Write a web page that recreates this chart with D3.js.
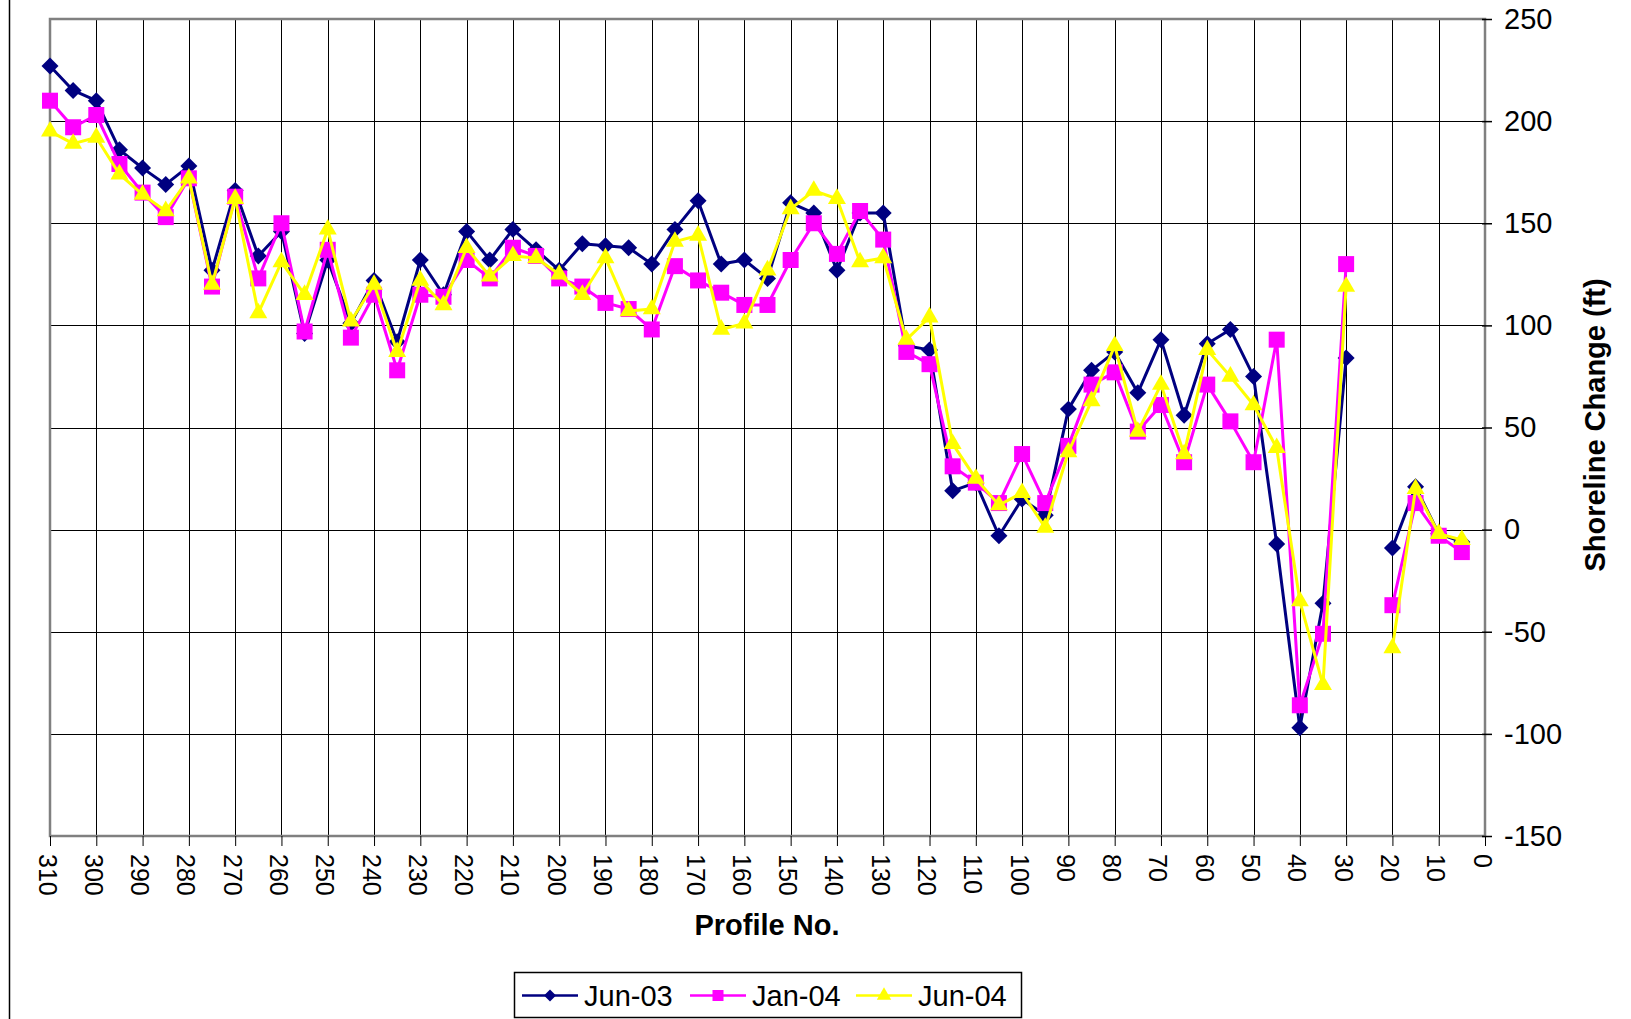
<!DOCTYPE html>
<html>
<head>
<meta charset="utf-8">
<script src="https://cdn.jsdelivr.net/npm/d3@7"></script>
<style>
  body { margin: 0; background: #fff; }
  svg text { font-family: Arial, "Liberation Sans", sans-serif; fill: #000; }
</style>
</head>
<body>
<svg id="chart" width="1631" height="1019"></svg>
<script>
// profile numbers, 310 down to 5 (no survey at 25)
var profiles = d3.range(310, 0, -5);

var jun03 = [227,215,210,186,177,169,178,127,166,134,146,96,132,101,122,92,132,115,146,132,
             147,137,127,140,139,138,130,147,161,130,132,123,160,155,127,155,155,90,88,19,
             23,-3,15,7,59,78,87,67,93,56,91,98,75,-7,-97,-36,84,null,-9,21,-2,-6];
var jan04 = [210,197,203,179,165,153,172,119,163,123,150,97,137,94,115,78,115,114,132,123,
             138,134,123,119,111,108,98,129,122,116,110,110,132,150,135,156,142,87,81,31,
             23,13,37,13,41,71,77,48,61,33,71,53,33,93,-86,-51,130,null,-37,13,-3,-11];
var jun04 = [195,189,192,174,164,156,172,120,162,106,131,115,147,102,120,87,122,110,138,124,
             134,133,125,115,133,107,108,141,144,98,101,127,157,166,162,131,133,93,104,42,
             25,12,18,1,38,63,90,48,71,37,88,75,61,40,-35,-76,119,null,-58,20,-2,-5];

var seriesNames = ["Jun-03", "Jan-04", "Jun-04"];
var seriesColors = ["#000080", "#FF00FF", "#FFFF00"];
var xTicks = d3.range(310, -1, -10);
var yTicks = d3.range(-150, 251, 50);

var svg = d3.select("#chart");
var plotLeft = 50, plotRight = 1485, plotTop = 19, plotBottom = 836;

var x = d3.scaleLinear().domain([310, 0]).range([plotLeft, plotRight]);
var y = d3.scaleLinear().domain([-150, 250]).range([plotBottom, plotTop]);

// plain hyphen for negatives, like the original sheet
function plain(d) { return String(d); }

// outer chart border (only left edge visible)
svg.append("line")
    .attr("x1", 9.5).attr("x2", 9.5).attr("y1", 0).attr("y2", 1019)
    .attr("stroke", "#000").attr("stroke-width", 1.5);

// gridlines
svg.append("g").selectAll("line")
    .data(xTicks.slice(1, -1))
    .enter().append("line")
    .attr("x1", function(d){ return Math.round(x(d)) + 0.5; })
    .attr("x2", function(d){ return Math.round(x(d)) + 0.5; })
    .attr("y1", plotTop).attr("y2", plotBottom)
    .attr("stroke", "#000").attr("stroke-width", 1);

svg.append("g").selectAll("line")
    .data(yTicks.slice(1, -1))
    .enter().append("line")
    .attr("y1", function(d){ return Math.round(y(d)) + 0.5; })
    .attr("y2", function(d){ return Math.round(y(d)) + 0.5; })
    .attr("x1", plotLeft).attr("x2", plotRight)
    .attr("stroke", "#000").attr("stroke-width", 1);

// plot border
svg.append("rect")
    .attr("x", plotLeft).attr("y", plotTop)
    .attr("width", plotRight - plotLeft).attr("height", plotBottom - plotTop)
    .attr("fill", "none").attr("stroke", "#808080").attr("stroke-width", 2.5);

// x axis
var xAxis = d3.axisBottom(x).tickValues(xTicks).tickSize(10).tickFormat(plain);
var gx = svg.append("g").attr("transform", "translate(0," + plotBottom + ")").call(xAxis);
gx.select(".domain").remove();
gx.selectAll(".tick line").attr("stroke", "#000").attr("stroke-width", 1);
gx.selectAll(".tick text")
    .attr("font-size", 25)
    .attr("fill", "#000")
    .attr("text-anchor", "start")
    .attr("dy", null)
    .attr("y", 0)
    .attr("dominant-baseline", "central")
    .attr("transform", "translate(-3,18) rotate(90)");

// y axis on the right
var yAxis = d3.axisRight(y).tickValues(yTicks).tickSize(10).tickPadding(12).tickFormat(plain);
var gy = svg.append("g").attr("transform", "translate(" + (plotRight - 3) + ",0)").call(yAxis);
gy.select(".domain").remove();
gy.selectAll(".tick line").attr("stroke", "#000").attr("stroke-width", 1.5);
gy.selectAll(".tick text").attr("font-size", 29).attr("fill", "#000");

// axis titles
svg.append("text")
    .attr("x", 767).attr("y", 935)
    .attr("text-anchor", "middle")
    .attr("font-size", 29).attr("font-weight", "bold")
    .text("Profile No.");

svg.append("text")
    .attr("transform", "translate(1605,425) rotate(-90)")
    .attr("text-anchor", "middle")
    .attr("font-size", 29).attr("font-weight", "bold")
    .text("Shoreline Change (ft)");

// markers
var diamond = d3.symbol().type(d3.symbolSquare).size(144);
var square = d3.symbol().type(d3.symbolSquare).size(256);
var triangle = d3.symbol().type(d3.symbolTriangle).size(140);
var shapes = [
    { path: diamond(), rot: 45 },
    { path: square(), rot: 0 },
    { path: triangle(), rot: 0 }
];

var allSeries = [jun03, jan04, jun04];
var line = d3.line()
    .defined(function(d){ return d.v !== null; })
    .x(function(d){ return x(d.p); })
    .y(function(d){ return y(d.v); });

allSeries.forEach(function(vals, i) {
    var pts = profiles.map(function(p, j){ return { p: p, v: vals[j] }; });
    var g = svg.append("g");
    g.append("path")
        .datum(pts)
        .attr("d", line)
        .attr("fill", "none")
        .attr("stroke", seriesColors[i])
        .attr("stroke-width", 3)
        .attr("stroke-linejoin", "round");
    g.selectAll(".m")
        .data(pts.filter(function(d){ return d.v !== null; }))
        .enter().append("path")
        .attr("d", shapes[i].path)
        .attr("transform", function(d){
            return "translate(" + x(d.p) + "," + y(d.v) + ") rotate(" + shapes[i].rot + ")";
        })
        .attr("fill", seriesColors[i]);
});

// legend
var legend = svg.append("g");
legend.append("rect")
    .attr("x", 514.5).attr("y", 972.5).attr("width", 507).attr("height", 45)
    .attr("fill", "#fff").attr("stroke", "#000").attr("stroke-width", 1.5);

var legX = [522, 690, 856];
var legDiamond = d3.symbol().type(d3.symbolSquare).size(72);
var legSquare = d3.symbol().type(d3.symbolSquare).size(121);
var legTriangle = d3.symbol().type(d3.symbolTriangle).size(90);
var legShapes = [legDiamond(), legSquare(), legTriangle()];
var legRot = [45, 0, 0];

seriesNames.forEach(function(name, i) {
    var lx = legX[i];
    legend.append("line")
        .attr("x1", lx).attr("x2", lx + 56)
        .attr("y1", 995.5).attr("y2", 995.5)
        .attr("stroke", seriesColors[i]).attr("stroke-width", 2.5);
    legend.append("path")
        .attr("d", legShapes[i])
        .attr("transform", "translate(" + (lx + 28) + ",995.5) rotate(" + legRot[i] + ")")
        .attr("fill", seriesColors[i]);
    legend.append("text")
        .attr("x", lx + 62).attr("y", 1006)
        .attr("font-size", 29)
        .text(name);
});
</script>
</body>
</html>
